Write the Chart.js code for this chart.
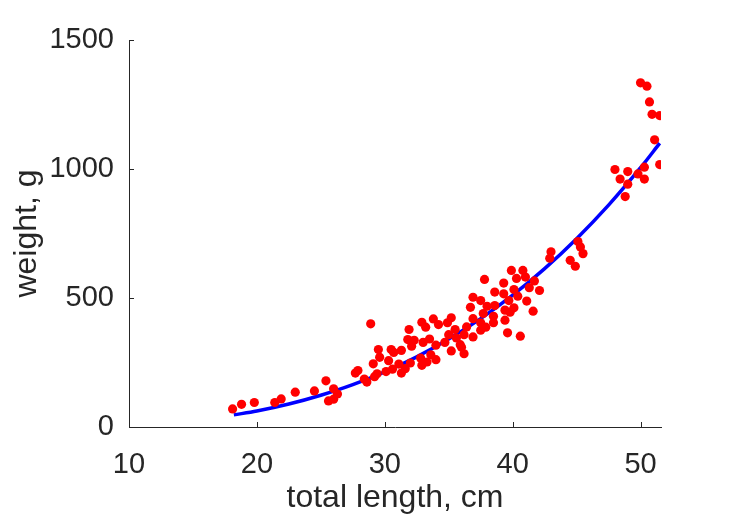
<!DOCTYPE html>
<html>
<head>
<meta charset="utf-8">
<script src="https://cdn.jsdelivr.net/npm/chart.js@4.4.1/dist/chart.umd.min.js"></script>
<style>
  html, body { margin: 0; padding: 0; background: #fff; }
  #wrap { width: 729px; height: 521px; }
</style>
</head>
<body>
<div id="wrap"><canvas id="chart"></canvas></div>
<script>
// measured fish: total length (cm) and weight (g)
const lengthCm = [18.1, 18.8, 19.8, 21.4, 21.9, 23.0, 24.5, 25.4, 26.0, 25.6, 26.0, 26.3,
  27.7, 27.9, 28.4, 28.6, 28.9, 29.1, 29.2, 29.4, 29.5, 29.6, 30.1, 30.3, 30.5, 30.7, 30.6,
  31.1, 31.3, 31.3, 31.6, 31.8, 31.9, 32.0, 32.1, 32.3, 32.8, 32.9, 32.9, 33.0, 33.2, 33.3,
  33.5, 33.6, 33.8, 34.0, 34.0, 34.2, 34.7, 34.9, 35.0, 35.2, 35.2, 35.5, 35.6, 35.9, 36.0,
  36.2, 36.2, 36.4, 36.7, 36.9, 36.9, 36.9, 37.5, 37.5, 37.5, 37.7, 37.8, 37.9, 38.0, 38.5,
  38.5, 38.6, 38.6, 39.3, 39.3, 39.4, 39.4, 39.6, 39.7, 39.8, 39.9, 40.1, 40.1, 40.3, 40.4,
  40.6, 40.8, 41.0, 41.1, 41.3, 41.7, 41.6, 42.1, 43.0, 42.9, 44.5, 44.9, 45.1, 45.3, 45.5,
  48.0, 48.4, 49.0, 49.0, 48.8, 49.8, 50.3, 50.3, 50.0, 50.5, 50.7, 50.9, 51.5, 51.1, 51.5];
const weightG = [70, 88, 95, 95, 109, 135, 140, 179, 148, 101, 108, 128,
  209, 219, 186, 174, 400, 245, 195, 206, 300, 270, 215, 257, 300, 289, 224,
  244, 209, 297, 226, 339, 378, 248, 313, 336, 267, 406, 239, 328, 387, 252,
  341, 280, 419, 261, 317, 397, 328, 404, 358, 423, 295, 378, 345, 319, 309,
  284, 358, 388, 464, 420, 349, 503, 490, 404, 375, 440, 572, 387, 468, 429,
  404, 523, 471, 558, 516, 453, 414, 365, 490, 445, 607, 533, 462, 576, 507,
  352, 607, 581, 488, 540, 566, 449, 529, 679, 654, 646, 623, 719, 698, 672,
  998, 961, 990, 941, 893, 981, 1007, 961, 1334, 1321, 1260, 1212, 1207, 1113, 1017];

// fitted length-weight curve
const fitLength = [18.2, 20, 22.5, 25, 27.5, 30, 32.5, 35, 37.5, 40, 42.5, 45, 47.5, 50, 51.5];
const fitWeight = [47, 62, 89, 123, 164, 214, 272, 341, 420, 511, 614, 730, 860, 1005, 1100];

const xTicks = [10, 20, 30, 40, 50];
const yTicks = [0, 500, 1000, 1500];

const AXIS = '#262626';
const FONT = 'Liberation Sans, Arial, Helvetica, sans-serif';

// MATLAB style inward tick marks
const inwardTicks = {
    id: 'inwardTicks',
    afterDraw(chart) {
        const ctx = chart.ctx;
        const x = chart.scales.x, y = chart.scales.y;
        const a = chart.chartArea;
        ctx.save();
        ctx.strokeStyle = AXIS;
        ctx.lineWidth = 1;
        ctx.beginPath();
        xTicks.forEach(v => {
            const px = Math.round(x.getPixelForValue(v)) + 0.5;
            ctx.moveTo(px, a.bottom);
            ctx.lineTo(px, a.bottom - 5);
        });
        yTicks.forEach(v => {
            const py = Math.round(y.getPixelForValue(v)) + 0.5;
            ctx.moveTo(a.left, py);
            ctx.lineTo(a.left + 5, py);
        });
        ctx.stroke();
        ctx.restore();
    }
};

const points = lengthCm.map((l, i) => ({ x: l, y: weightG[i] }));
const fit = fitLength.map((l, i) => ({ x: l, y: fitWeight[i] }));

new Chart(document.getElementById('chart'), {
    type: 'scatter',
    data: {
        datasets: [
            {
                data: points,
                backgroundColor: '#ff0000',
                borderWidth: 0,
                pointRadius: 4.6,
                order: 0
            },
            {
                data: fit,
                showLine: true,
                borderColor: '#0000ff',
                borderWidth: 3.5,
                pointRadius: 0,
                cubicInterpolationMode: 'monotone',
                order: 1
            }
        ]
    },
    options: {
        responsive: true,
        maintainAspectRatio: false,
        animation: false,
        devicePixelRatio: 1,
        layout: { padding: { top: 40, right: 68, bottom: 4, left: 0 } },
        plugins: { legend: { display: false }, tooltip: { enabled: false } },
        scales: {
            x: {
                type: 'linear',
                min: 10,
                max: 51.6,
                afterFit: s => { s.height = 90; },
                grid: { display: false },
                border: { display: true, color: AXIS, width: 1 },
                ticks: {
                    stepSize: 10,
                    includeBounds: false,
                    padding: 13,
                    color: AXIS,
                    font: { family: FONT, size: 29 },
                    maxRotation: 0,
                    callback: v => String(v)
                },
                title: {
                    display: true,
                    text: 'total length, cm',
                    color: AXIS,
                    font: { family: FONT, size: 32 },
                    padding: { top: 0, bottom: 0 }
                }
            },
            y: {
                type: 'linear',
                min: 0,
                max: 1500,
                afterFit: s => { s.width = 129; },
                grid: { display: false },
                border: { display: true, color: AXIS, width: 1 },
                ticks: {
                    stepSize: 500,
                    padding: 7,
                    color: AXIS,
                    font: { family: FONT, size: 29 },
                    callback: v => String(v)
                },
                title: {
                    display: true,
                    text: 'weight, g',
                    color: AXIS,
                    font: { family: FONT, size: 32 },
                    padding: { top: 8, bottom: 0 }
                }
            }
        }
    },
    plugins: [inwardTicks]
});
</script>
</body>
</html>
